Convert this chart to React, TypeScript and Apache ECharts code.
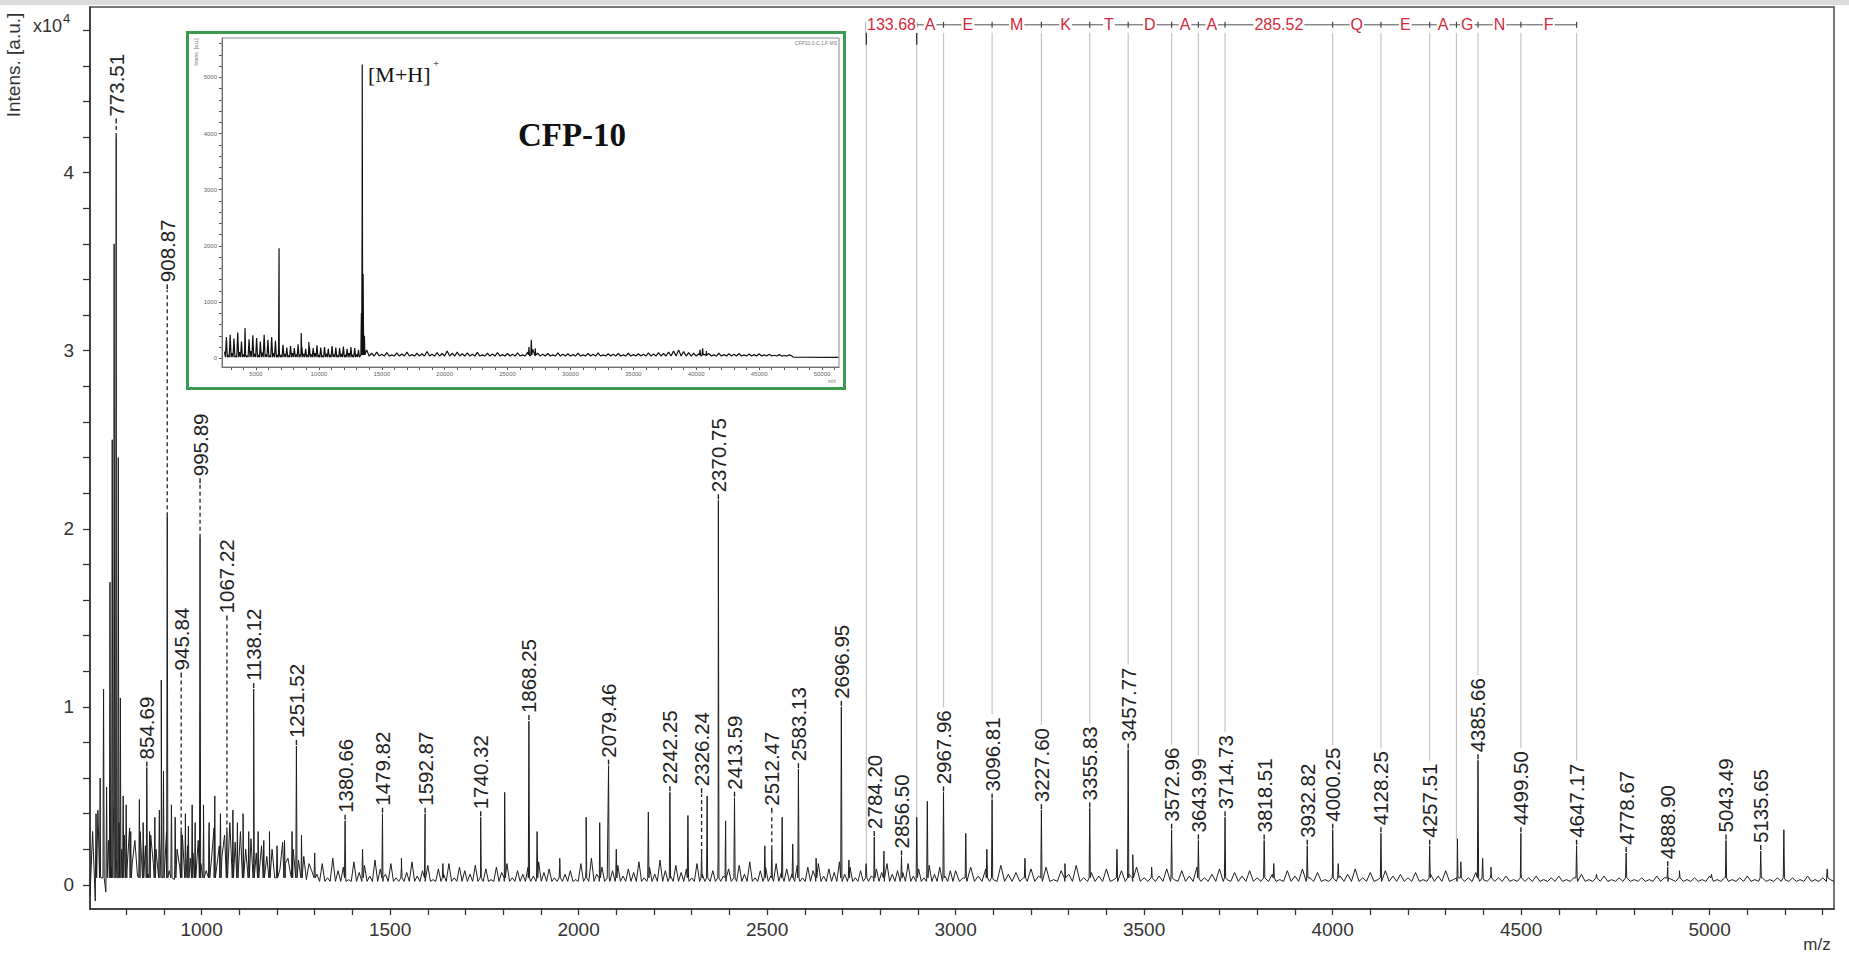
import React, { useEffect, useRef } from "react";
import * as echarts from "echarts";

const FONT = "'Liberation Sans', Arial, Helvetica, sans-serif";
const SERIF = "'Liberation Serif', 'Times New Roman', serif";

// ---------- main spectrum, intensity in units of 10^4 a.u. ----------
const labeledMz = [773.51, 854.69, 908.87, 945.84, 995.89, 1067.22, 1138.12, 1251.52, 1380.66, 1479.82, 1592.87, 1740.32, 1868.25, 2079.46, 2242.25, 2326.24, 2370.75, 2413.59, 2512.47, 2583.13, 2696.95, 2784.2, 2856.5, 2967.96, 3096.81, 3227.6, 3355.83, 3457.77, 3572.96, 3643.99, 3714.73, 3818.51, 3932.82, 4000.25, 4128.25, 4257.51, 4385.66, 4499.5, 4647.17, 4778.67, 4888.9, 5043.49, 5135.65];
const labeledHeight = [4.2, 0.66, 2.07, 0.3, 1.95, 0.3, 1.1, 0.78, 0.36, 0.4, 0.4, 0.38, 0.92, 0.67, 0.52, 0.18, 2.16, 0.49, 0.2, 0.65, 1.0, 0.27, 0.16, 0.52, 0.48, 0.42, 0.43, 0.76, 0.31, 0.25, 0.38, 0.25, 0.22, 0.31, 0.29, 0.22, 0.7, 0.29, 0.22, 0.18, 0.1, 0.25, 0.19];
const labelStart = [4.27, 0.66, 3.34, 1.16, 2.25, 1.48, 1.1, 0.78, 0.36, 0.4, 0.4, 0.38, 0.92, 0.67, 0.52, 0.51, 2.16, 0.49, 0.4, 0.65, 1.0, 0.27, 0.16, 0.52, 0.48, 0.42, 0.43, 0.76, 0.31, 0.25, 0.38, 0.25, 0.22, 0.31, 0.29, 0.22, 0.7, 0.29, 0.22, 0.18, 0.1, 0.25, 0.19];

const minorPeaks: [number, number][] = [
  [720, 0.4], [731, 0.6], [740, 1.1], [748, 0.55], [757, 1.7], [763, 2.5], [768, 3.6], [779, 2.4], [784.5, 1.05], [792, 0.5],
  [800, 0.45], [812, 0.3], [835, 0.48], [845, 0.35], [862, 0.3], [876, 0.38], [888, 0.42], [893, 1.15], [899, 0.64], [920, 0.45],
  [930, 0.38], [957, 0.4], [965, 0.33], [975, 0.45], [983, 0.35], [1005, 0.45], [1020, 0.35], [1035, 0.5], [1050, 0.4], [1083, 0.42],
  [1095, 0.35], [1110, 0.4], [1125, 0.3], [1150, 0.3], [1165, 0.25], [1180, 0.3], [1200, 0.22], [1220, 0.25], [1240, 0.3], [1265, 0.28],
  [1300, 0.18], [1427, 0.2], [1530, 0.15], [1640, 0.12], [1804, 0.52], [1890, 0.3], [1950, 0.15], [2020, 0.38], [2056, 0.35], [2100, 0.2],
  [2185, 0.41], [2290, 0.39], [2341, 0.5], [2390, 0.36], [2494, 0.22], [2540, 0.38], [2568, 0.23], [2630, 0.15], [2717, 0.14], [2763, 0.12],
  [2810, 0.19], [2897, 0.38], [2925, 0.47], [3027, 0.29], [3083, 0.2], [3184, 0.15], [3290, 0.12], [3428, 0.2], [3470, 0.17], [3520, 0.1],
  [3844, 0.12], [4015, 0.12], [4331, 0.26], [4340, 0.13], [4398, 0.15], [4420, 0.1], [4700, 0.06], [4920, 0.08], [5005, 0.06], [5197, 0.31],
  [5312, 0.09],
];

// baseline noise, hundredths of 10^4 a.u.
const noiseStartA = 704, noiseStepA = 7;
const noiseA = [
  -6, 30, -9, 42, 5, 55, -4, 25, 10, 48,
  15, 35, 20, 28, 8, 32, 12, 25, 5, 30,
  10, 22, 6, 28, 12, 20, 4, 26, 14, 30,
  8, 24, 3, 20, 10, 28, 6, 22, 15, 18,
  5, 25, 12, 30, 8, 26, 14, 32, 10, 22,
  16, 28, 9, 35, 12, 24, 6, 30, 15, 20,
  8, 26, 12, 18, 5, 22, 10, 16, 7, 20,
  4, 18, 9, 24, 12, 15, 6, 20, 8, 14,
  5, 16, 3, 12, 8, 10,
];
const noiseStartB = 1306, noiseStepB = 14, noiseFloorB = 2;
const noiseB = [
  6, 12, 4, 15, 8, 10, 3, 13, 7, 11, 5, 14, 9, 6, 12, 4, 10, 7, 13, 5,
  8, 11, 3, 9, 6, 12, 4, 10, 8, 6, 11, 5, 9, 3, 10, 7, 12, 4, 8, 6,
  10, 5, 13, 7, 9, 4, 11, 6, 8, 3, 12, 9, 15, 6, 10, 4, 8, 11, 5, 9,
  7, 13, 4, 10, 6, 14, 8, 5, 11, 7, 9, 4, 12, 6, 10, 8, 15, 5, 9, 7,
  11, 6, 13, 4, 8, 10, 5, 12, 7, 9, 6, 11, 4, 10, 8, 12, 5, 9, 7, 13,
  6, 10, 4, 8, 11, 5, 9, 7, 12, 6, 8, 7, 12, 5, 9, 4, 11, 6, 10, 5,
  8,
];
const noiseStartC = 3000, noiseStepC = 20, noiseFloorC = 2;
const noiseC = [
  8, 4, 10, 5, 9, 3, 11, 6, 7, 4, 9, 5, 10, 3, 8, 6, 11, 4, 7, 5,
  9, 3, 8, 6, 10, 4, 7, 5, 9, 3, 8, 5, 10, 4, 6, 9, 3, 7, 5, 8,
  4, 10, 6, 3, 8, 5, 9, 4, 7, 3, 8, 5, 6, 9, 4, 7, 3, 8, 5, 6,
  4, 7, 3, 6, 5, 8, 3, 5, 4, 7, 3, 6, 4, 5, 3, 6, 4, 5, 3, 4,
  5, 3, 4, 6, 3, 4, 5, 3, 4, 5, 3, 4, 3, 5, 4, 3, 5, 3, 4, 3,
  5, 3, 4, 3, 4, 5, 3, 4, 3, 4, 3, 4, 3, 5, 3, 4, 3,
];

const xLabelValues = [1000, 1500, 2000, 2500, 3000, 3500, 4000, 4500, 5000];
const yLabelValues = [0, 1, 2, 3, 4];

// sequence ladder
const ladderBounds = [2763.24, 2896.92, 2967.96, 3096.81, 3227.6, 3355.83, 3457.77, 3572.96, 3643.99, 3714.73, 4000.25, 4128.25, 4257.51, 4328.55, 4385.66, 4499.5, 4647.17];
const ladderNames = ["133.68", "A", "E", "M", "K", "T", "D", "A", "A", "285.52", "Q", "E", "A", "G", "N", "F"];

// ---------- inset (full range spectrum, raw a.u.) ----------
const insetPeaks: [number, number][] = [
  [4133, 540], [6835, 1960], [8600, 450], [9205, 290], [13380, 800], [13440, 2350], [13450, 5230], [13520, 1500], [13620, 400],
  [26700, 200], [26890, 330], [27200, 180], [40300, 150], [40510, 180], [40800, 130],
];
const insetNoiseStartA = 2500, insetNoiseStepA = 150, insetNoiseFloorA = 20;
const insetNoiseA = [
  120, 380, 60, 420, 90, 350, 40, 460, 110, 300, 70, 390, 50, 340, 130, 410, 80, 360, 60, 300, 100, 420, 70, 330, 50, 380, 90, 310, 60,
  200, 60, 240, 80, 190, 50, 220, 90, 180, 70, 250, 60, 200, 80, 170, 50, 210, 70, 180, 90, 230, 60, 190, 50, 200, 80, 170, 60, 220, 70,
  190, 50, 180, 80, 210, 60, 170, 90, 200, 60, 180, 70, 150,
];
const insetNoiseStartB = 13800, insetNoiseStepB = 400, insetNoiseFloorB = 40;
const insetNoiseB = [
  150, 90, 110, 70, 100, 60, 95, 75, 110, 65, 90, 80, 120, 70, 100, 85, 130, 90, 110, 80,
  95, 70, 105, 60, 90, 75, 100, 65, 85, 70, 95, 60, 110, 160, 90, 70, 85, 60, 95, 70,
  80, 65, 90, 60, 85, 70, 95, 60, 80, 70, 85, 60, 90, 65, 80, 70, 95, 75, 100, 85,
  110, 130, 150, 120, 100, 90, 80, 70, 85, 60, 90, 65, 80, 70, 85, 60, 75, 65, 80, 60,
  70, 55, 65, 50, 60,
];
const insetTail: [number, number][] = [[47700, 20], [51300, 15]];
const insetXLabels = [5000, 10000, 15000, 20000, 25000, 30000, 35000, 40000, 45000, 50000];
const insetYLabels = [0, 1000, 2000, 3000, 4000, 5000];

const LABEL_FONT = 20.5;
const LADDER_Y = 4.83;

function textLen(s: string, f: number) {
  let w = 0;
  for (const c of s) w += c === "." ? 0.278 : 0.556;
  return w * f;
}

function buildMain() {
  const pts: number[][] = [];
  noiseA.forEach((v, i) => pts.push([noiseStartA + i * noiseStepA, v / 100]));
  noiseB.forEach((v, i) => {
    const m = noiseStartB + i * noiseStepB;
    pts.push([m, v / 100], [m + noiseStepB / 2, noiseFloorB / 100]);
  });
  noiseC.forEach((v, i) => {
    const m = noiseStartC + i * noiseStepC;
    pts.push([m, v / 100], [m + noiseStepC / 2, noiseFloorC / 100]);
  });
  const peak = (m: number, h: number) => {
    pts.push([m - 1.6, 0.04], [m, h], [m + 1.6, 0.04]);
  };
  labeledMz.forEach((m, i) => peak(m, labeledHeight[i]));
  minorPeaks.forEach(([m, h]) => peak(m, h));
  pts.sort((a, b) => a[0] - b[0]);
  return pts;
}

function buildInset() {
  const pts: number[][] = [];
  insetNoiseA.forEach((v, i) => {
    const m = insetNoiseStartA + i * insetNoiseStepA;
    pts.push([m, v], [m + insetNoiseStepA / 2, insetNoiseFloorA]);
  });
  insetNoiseB.forEach((v, i) => {
    const m = insetNoiseStartB + i * insetNoiseStepB;
    pts.push([m, v], [m + insetNoiseStepB / 2, insetNoiseFloorB]);
  });
  insetTail.forEach((p) => pts.push(p));
  insetPeaks.forEach(([m, h]) => pts.push([m - 40, 60], [m, h], [m + 40, 60]));
  pts.sort((a, b) => a[0] - b[0]);
  return pts;
}

function range(a: number, b: number, s: number) {
  const r: number[] = [];
  for (let v = a; v <= b + 1e-9; v += s) r.push(Math.round(v * 1000) / 1000);
  return r;
}

const plain = (v: number) => String(v);

function buildOption(): any {
  const labelData = labeledMz.map((m, i) => [m, labeledHeight[i], labelStart[i], i]);
  const ladderSeg = ladderNames.map((n, i) => [ladderBounds[i], ladderBounds[i + 1], i]);
  const ladderLines = ladderBounds.map((b, i) => [b, i]);

  return {
    animation: false,
    backgroundColor: "#ffffff",
    grid: [
      { left: 90, right: 15, top: 7, bottom: 45, show: true, borderColor: "#4a4a4a", borderWidth: 1.5 },
      { left: 222, right: 1010, top: 38, bottom: 587, show: true, borderColor: "#8a8a8a", borderWidth: 1, z: 3 },
    ],
    xAxis: [
      {
        type: "value", gridIndex: 0, min: 704, max: 5330,
        axisLine: { show: true, onZero: false, lineStyle: { color: "#333", width: 1.5 } },
        axisTick: { show: true, length: 6, customValues: range(800, 5300, 100), lineStyle: { color: "#333", width: 1.3 } },
        axisLabel: { customValues: xLabelValues, formatter: plain, fontSize: 19, color: "#333", margin: 11, fontFamily: FONT },
        splitLine: { show: false },
      },
      {
        type: "value", gridIndex: 1, min: 2300, max: 51350,
        axisLine: { show: true, onZero: false, lineStyle: { color: "#555", width: 1 } },
        axisTick: { show: true, length: 3, customValues: range(3000, 51000, 1000), lineStyle: { color: "#555" } },
        axisLabel: { customValues: insetXLabels, formatter: plain, fontSize: 6, color: "#666", margin: 4, fontFamily: FONT },
        splitLine: { show: false },
      },
    ],
    yAxis: [
      {
        type: "value", gridIndex: 0, min: -0.135, max: 4.93,
        axisLine: { show: true, onZero: false, lineStyle: { color: "#333", width: 1.5 } },
        axisTick: { show: true, length: 7, customValues: range(0, 4.8, 0.2), lineStyle: { color: "#333", width: 1.3 } },
        axisLabel: { customValues: yLabelValues, formatter: plain, fontSize: 19, color: "#333", margin: 16, fontFamily: FONT },
        splitLine: { show: false },
      },
      {
        type: "value", gridIndex: 1, min: -155, max: 5700,
        axisLine: { show: true, onZero: false, lineStyle: { color: "#555", width: 1 } },
        axisTick: { show: true, length: 3, customValues: range(0, 5600, 200), lineStyle: { color: "#555" } },
        axisLabel: { customValues: insetYLabels, formatter: plain, fontSize: 6, color: "#666", margin: 5, fontFamily: FONT },
        splitLine: { show: false },
      },
    ],
    series: [
      {
        type: "line", xAxisIndex: 0, yAxisIndex: 0, data: buildMain(), showSymbol: false, symbol: "none",
        lineStyle: { color: "#1e1e1e", width: 1 }, z: 2, silent: true,
      },
      {
        type: "custom", xAxisIndex: 0, yAxisIndex: 0, data: ladderLines, z: 1, clip: false, silent: true,
        renderItem: (params: any, api: any) => {
          const b = api.value(0);
          const top = api.coord([b, LADDER_Y]);
          let bottomY = api.coord([b, 0.05])[1];
          const li = labeledMz.findIndex((m) => Math.abs(m - b) < 3);
          if (li >= 0) {
            const p = api.coord([labeledMz[li], labelStart[li]]);
            bottomY = p[1] - 9 - textLen(labeledMz[li].toFixed(2), LABEL_FONT) - 2;
          } else {
            const mp = minorPeaks.find(([m]) => Math.abs(m - b) < 4);
            if (mp) bottomY = api.coord([mp[0], mp[1]])[1];
          }
          return {
            type: "line",
            shape: { x1: top[0], y1: top[1] + 8, x2: top[0], y2: bottomY },
            style: { stroke: "#c4c4c4", lineWidth: 1.2 },
          };
        },
      },
      {
        type: "custom", xAxisIndex: 0, yAxisIndex: 0, data: ladderSeg, z: 4, clip: false, silent: true,
        renderItem: (params: any, api: any) => {
          const i = api.value(2);
          const p0 = api.coord([api.value(0), LADDER_Y]);
          const p1 = api.coord([api.value(1), LADDER_Y]);
          const y = p0[1];
          const children: any[] = [
            { type: "line", shape: { x1: p0[0], y1: y, x2: p1[0], y2: y }, style: { stroke: "#555", lineWidth: 1 } },
            { type: "line", shape: { x1: p1[0], y1: y - 3, x2: p1[0], y2: y + 3 }, style: { stroke: "#444", lineWidth: 1.2 } },
          ];
          if (i === 0) {
            children.push({ type: "line", shape: { x1: p0[0], y1: y - 3, x2: p0[0], y2: y + 20 }, style: { stroke: "#333", lineWidth: 1.3 } });
            children.push({ type: "line", shape: { x1: p1[0], y1: y + 8, x2: p1[0], y2: y + 20 }, style: { stroke: "#333", lineWidth: 1.3 } });
          }
          children.push({
            type: "text", x: (p0[0] + p1[0]) / 2, y,
            style: {
              text: ladderNames[i], fill: "#d22a3c", fontSize: 16, fontFamily: FONT,
              textAlign: "center", textVerticalAlign: "middle", align: "center", verticalAlign: "middle",
              backgroundColor: "#ffffff", padding: [0, 1],
            },
          });
          return { type: "group", children };
        },
      },
      {
        type: "custom", xAxisIndex: 0, yAxisIndex: 0, data: labelData, z: 5, clip: false, silent: true,
        renderItem: (params: any, api: any) => {
          const i = api.value(3);
          const m = api.value(0);
          const pPeak = api.coord([m, api.value(1)]);
          const pLab = api.coord([m, api.value(2)]);
          const children: any[] = [];
          if (api.value(2) - api.value(1) > 0.02) {
            children.push({
              type: "line", shape: { x1: pPeak[0], y1: pPeak[1], x2: pLab[0], y2: pLab[1] },
              style: { stroke: "#222", lineWidth: 1.3, lineDash: [4, 3] },
            });
          }
          children.push({
            type: "line", shape: { x1: pLab[0], y1: pLab[1] - 1, x2: pLab[0], y2: pLab[1] - 6 },
            style: { stroke: "#222", lineWidth: 1.4 },
          });
          children.push({
            type: "text", x: pLab[0], y: pLab[1] - 8, rotation: Math.PI / 2,
            style: {
              text: labeledMz[i].toFixed(2), fill: "#222", fontSize: LABEL_FONT, fontFamily: FONT,
              textAlign: "left", textVerticalAlign: "middle", align: "left", verticalAlign: "middle",
            },
          });
          return { type: "group", children };
        },
      },
      {
        type: "line", xAxisIndex: 1, yAxisIndex: 1, data: buildInset(), showSymbol: false, symbol: "none",
        lineStyle: { color: "#111", width: 1.2 }, z: 6, silent: true,
      },
    ],
    graphic: [
      { type: "rect", z: -1, shape: { x: 0, y: 0, width: 1849, height: 5 }, style: { fill: "#dcdcdc" } },
      {
        type: "text", x: 13, y: 65, rotation: Math.PI / 2,
        style: { text: "Intens. [a.u.]", fill: "#333", fontSize: 19, fontFamily: FONT, textAlign: "center", textVerticalAlign: "middle", align: "center", verticalAlign: "middle" },
      },
      {
        type: "text", x: 33, y: 26,
        style: { text: "x10", fill: "#333", fontSize: 18, fontFamily: FONT, textAlign: "left", textVerticalAlign: "middle", align: "left", verticalAlign: "middle" },
      },
      {
        type: "text", x: 63, y: 18,
        style: { text: "4", fill: "#333", fontSize: 13, fontFamily: FONT, textAlign: "left", textVerticalAlign: "middle", align: "left", verticalAlign: "middle" },
      },
      {
        type: "text", x: 1817, y: 944,
        style: { text: "m/z", fill: "#333", fontSize: 17, fontFamily: FONT, textAlign: "center", textVerticalAlign: "middle", align: "center", verticalAlign: "middle" },
      },
      {
        type: "rect", z: -1, shape: { x: 187.5, y: 32.5, width: 657, height: 356 },
        style: { fill: "#ffffff", stroke: "#3c9a4e", lineWidth: 3 },
      },
      {
        type: "text", x: 572, y: 135, z: 10,
        style: { text: "CFP-10", fill: "#111", fontSize: 33, fontWeight: "bold", fontFamily: SERIF, textAlign: "center", textVerticalAlign: "middle", align: "center", verticalAlign: "middle" },
      },
      {
        type: "text", x: 368, y: 74, z: 10,
        style: { text: "[M+H]", fill: "#111", fontSize: 22, fontFamily: SERIF, textAlign: "left", textVerticalAlign: "middle", align: "left", verticalAlign: "middle" },
      },
      {
        type: "text", x: 433, y: 63, z: 10,
        style: { text: "+", fill: "#111", fontSize: 11, fontFamily: SERIF, textAlign: "left", textVerticalAlign: "middle", align: "left", verticalAlign: "middle" },
      },
      {
        type: "text", x: 837, y: 43, z: 10,
        style: { text: "CFP10.0.C.1.F MS", fill: "#777", fontSize: 5, fontFamily: FONT, textAlign: "right", textVerticalAlign: "middle", align: "right", verticalAlign: "middle" },
      },
      {
        type: "text", x: 196, y: 52, z: 10, rotation: Math.PI / 2,
        style: { text: "Intens. [a.u.]", fill: "#777", fontSize: 5, fontFamily: FONT, textAlign: "center", textVerticalAlign: "middle", align: "center", verticalAlign: "middle" },
      },
      {
        type: "text", x: 836, y: 381, z: 10,
        style: { text: "m/z", fill: "#777", fontSize: 5, fontFamily: FONT, textAlign: "right", textVerticalAlign: "middle", align: "right", verticalAlign: "middle" },
      },
    ],
  };
}

export default function App() {
  const ref = useRef<HTMLDivElement>(null);
  useEffect(() => {
    const chart = echarts.init(ref.current as HTMLDivElement, null, { renderer: "svg" });
    chart.setOption(buildOption());
    return () => chart.dispose();
  }, []);
  return (
    <div
      ref={ref}
      style={{ position: "fixed", left: 0, top: 0, width: 1849, height: 954, background: "#ffffff" }}
    />
  );
}
